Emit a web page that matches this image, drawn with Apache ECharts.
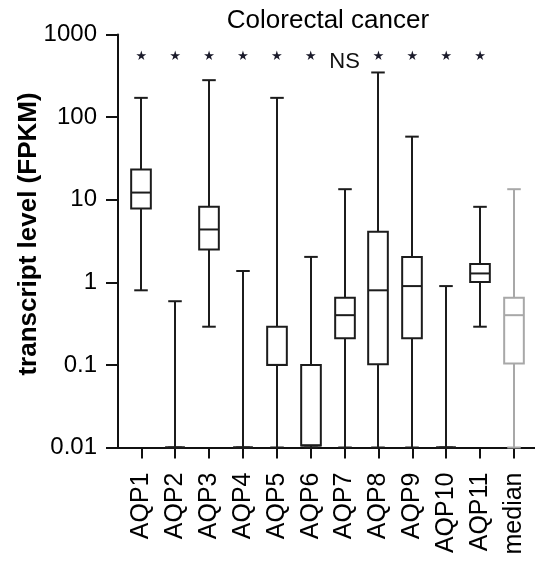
<!DOCTYPE html>
<html><head><meta charset="utf-8">
<script src="https://cdn.jsdelivr.net/npm/echarts@6/dist/echarts.min.js"></script>
<style>html,body{margin:0;padding:0;background:#fff}#c{width:535px;height:565px}</style>
</head><body><div id="c"></div>
<script>
const categories = ['AQP1','AQP2','AQP3','AQP4','AQP5','AQP6','AQP7','AQP8','AQP9','AQP10','AQP11','median'];
const whiskerHigh = [171, 0.59, 280, 1.37, 171, 2.03, 13.4, 347, 58, 0.90, 8.2, 13.4];
const q3 =          [23.2, 0.01, 8.2, 0.01, 0.29, 0.1, 0.65, 4.1, 2.03, 0.01, 1.66, 0.65];
const medians =     [12.2, 0.01, 4.36, 0.01, 0.1, 0.0106, 0.40, 0.80, 0.90, 0.01, 1.28, 0.40];
const q1 =          [7.8, 0.01, 2.5, 0.01, 0.1, 0.0106, 0.21, 0.102, 0.21, 0.01, 1.01, 0.104];
const whiskerLow =  [0.80, 0.01, 0.29, 0.01, 0.01, 0.01, 0.01, 0.01, 0.01, 0.01, 0.29, 0.01];
const significance = ['*','*','*','*','*','*','NS','*','*','*','*',''];
const significanceLevel = [560,560,560,560,560,560,470,560,560,560,560,560];
const yTickLabels = ['0.01','0.1','1','10','100','1000'];

const FONT = '"Liberation Sans", Arial, sans-serif';
const positions = categories.map((c, i) => i + 1);
const boxData = categories.map((c, i) => [i + 1, whiskerLow[i], q1[i], medians[i], q3[i], whiskerHigh[i], c === 'median' ? 1 : 0]);
const sigData = categories.map((c, i) => [i + 1, significanceLevel[i]]).filter((d, i) => significance[i] !== '');
const starPath = 'M50,0 L61,35 L98,35 L68,57 L79,91 L50,70 L21,91 L32,57 L2,35 L39,35 Z';

const chart = echarts.init(document.getElementById('c'), null, {renderer: 'canvas'});
const axisColor = '#111';
chart.setOption({
  animation: false,
  backgroundColor: '#fff',
  title: {
    text: 'Colorectal cancer', left: 328, top: 8, textAlign: 'center', padding: 0,
    textStyle: {fontSize: 26, fontWeight: 'normal', color: '#000', fontFamily: FONT}
  },
  grid: {left: 118, right: 0, top: 34.5, bottom: 117.5, containLabel: false, outerBoundsMode: 'none'},
  xAxis: {
    type: 'value', min: 0.312, max: 12.62,
    axisLine: {show: true, onZero: false, lineStyle: {color: axisColor, width: 2}},
    axisTick: {show: true, customValues: positions, length: 11, lineStyle: {color: axisColor, width: 2}},
    axisLabel: {customValues: positions, rotate: 90, margin: 25, fontSize: 25, color: '#000', fontFamily: FONT,
      formatter: v => categories[Math.round(v) - 1]},
    splitLine: {show: false}
  },
  yAxis: {
    type: 'log', logBase: 10, min: 0.01, max: 1000,
    axisLine: {show: true, onZero: false, lineStyle: {color: axisColor, width: 2}},
    axisTick: {show: true, length: 12, lineStyle: {color: axisColor, width: 2}},
    minorTick: {show: false},
    axisLabel: {margin: 21, fontSize: 24, color: '#000', fontFamily: FONT,
      formatter: v => yTickLabels[Math.round(Math.log10(v)) + 2]},
    splitLine: {show: false},
    name: 'transcript level (FPKM)', nameLocation: 'middle', nameGap: 76, nameMoveOverlap: false,
    nameTextStyle: {fontSize: 26, fontWeight: 'bold', color: '#000', fontFamily: FONT, padding: [0, 0, 0, 14]}
  },
  series: [
    {
      type: 'custom',
      data: boxData,
      renderItem: (params, api) => {
        const x = api.value(0);
        const lo = api.coord([x, api.value(1)]);
        const b1 = api.coord([x, api.value(2)]);
        const md = api.coord([x, api.value(3)]);
        const b3 = api.coord([x, api.value(4)]);
        const hi = api.coord([x, api.value(5)]);
        const band = api.coord([x + 1, api.value(3)])[0] - md[0];
        const bw = band * 0.58, cw = band * 0.4;
        const cx = Math.round(md[0]);
        const color = api.value(6) ? '#a8a8a8' : '#1c1c1c';
        const st = {stroke: color, lineWidth: 2, fill: null};
        return {
          type: 'group',
          children: [
            {type: 'line', shape: {x1: cx, y1: hi[1], x2: cx, y2: b3[1]}, style: st},
            {type: 'line', shape: {x1: cx, y1: b1[1], x2: cx, y2: lo[1]}, style: st},
            {type: 'line', shape: {x1: cx - cw / 2, y1: hi[1], x2: cx + cw / 2, y2: hi[1]}, style: st},
            {type: 'line', shape: {x1: cx - cw / 2, y1: lo[1], x2: cx + cw / 2, y2: lo[1]}, style: st},
            {type: 'rect', shape: {x: cx - bw / 2, y: b3[1], width: bw, height: b1[1] - b3[1]}, style: {stroke: color, lineWidth: 2, fill: '#fff'}},
            {type: 'line', shape: {x1: cx - bw / 2, y1: md[1], x2: cx + bw / 2, y2: md[1]}, style: st}
          ]
        };
      }
    },
    {
      type: 'custom',
      data: sigData,
      renderItem: (params, api) => {
        const x = api.value(0);
        const p = api.coord([x, api.value(1)]);
        const label = significance[Math.round(x) - 1];
        if (label === '*') {
          return {type: 'path', shape: {pathData: starPath, x: p[0] - 5, y: p[1] - 5, width: 10, height: 10, layout: 'center'}, style: {fill: '#1a1a2a'}};
        }
        return {type: 'text', x: p[0], y: p[1], style: {text: label, font: '22px ' + FONT, fill: '#111', align: 'center', verticalAlign: 'middle'}};
      }
    }
  ]
});
</script></body></html>
